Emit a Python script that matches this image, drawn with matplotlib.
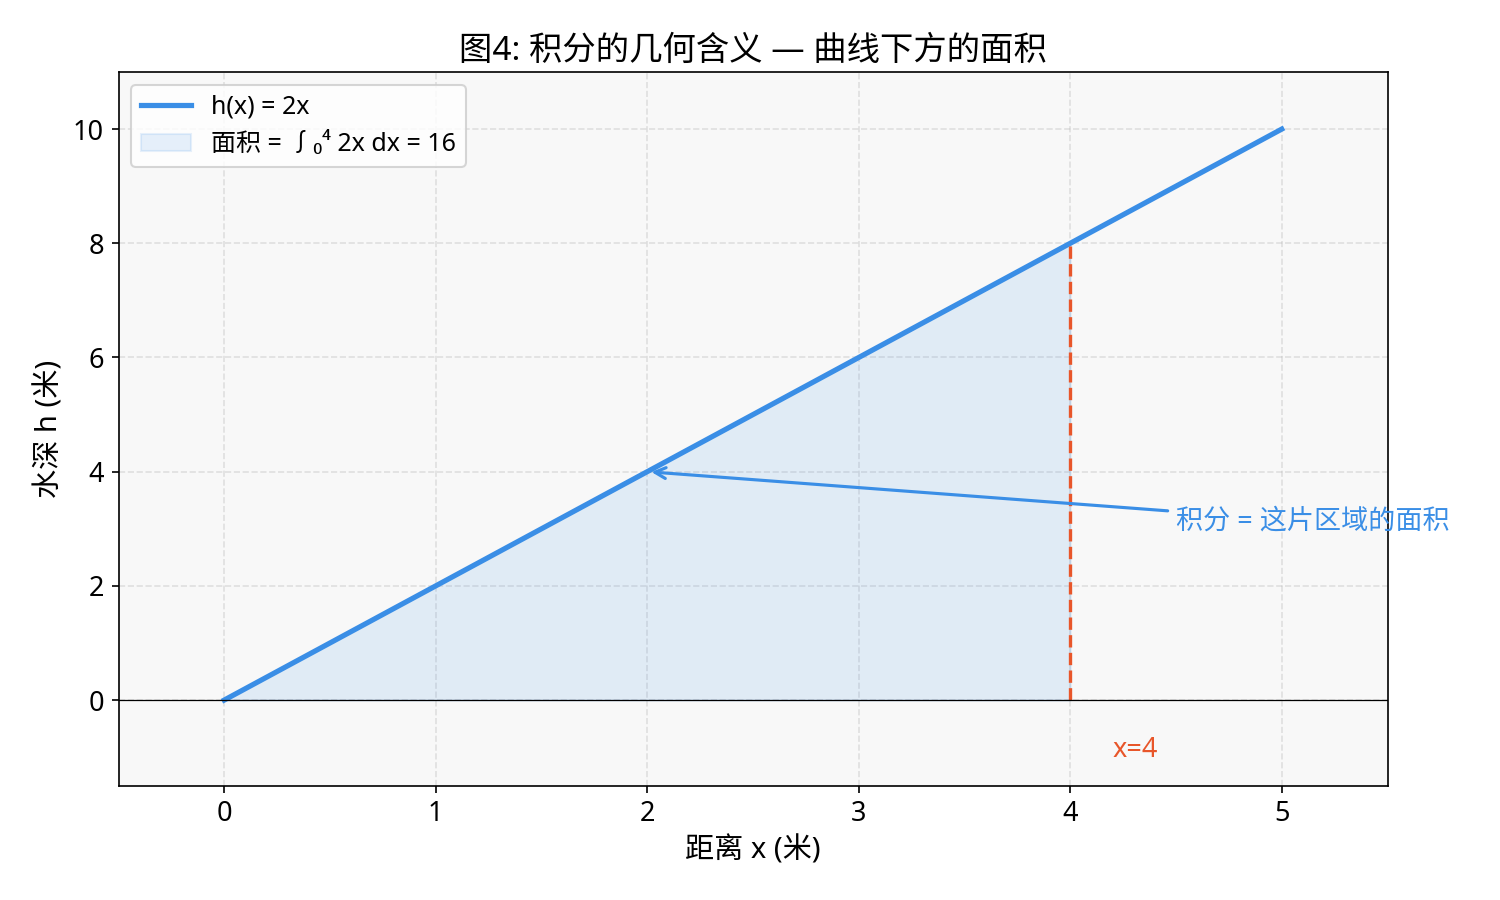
import numpy as np
import matplotlib
matplotlib.use("Agg")
import matplotlib.pyplot as plt

plt.rcParams['font.family'] = ['Noto Sans', 'Noto Sans CJK SC', 'DejaVu Sans']
plt.rcParams['axes.unicode_minus'] = False

x_line = [0, 1, 2, 3, 4, 5]
h_line = [0, 2, 4, 6, 8, 10]
x_fill = [0, 1, 2, 3, 4]
h_fill = [0, 2, 4, 6, 8]
x_mark = 4
h_mark = 8

blue = '#3A8EE6'
red = '#E8562A'

fig, ax = plt.subplots(figsize=(10, 6), dpi=150)
ax.set_facecolor('#F8F8F8')

ax.plot(x_line, h_line, color=blue, linewidth=2.5, label='h(x) = 2x')
ax.fill_between(x_fill, h_fill, 0, color=blue, alpha=0.12, label='面积 = ∫₀⁴ 2x dx = 16')
ax.plot([x_mark, x_mark], [0, h_mark], color=red, linestyle='--', linewidth=1.6)
ax.axhline(0, color='black', linewidth=0.6)

ax.annotate('积分 = 这片区域的面积', xy=(2, 4), xytext=(4.5, 3.0),
            fontsize=13, color=blue,
            arrowprops=dict(arrowstyle='->', color=blue, lw=1.5))
ax.text(4.2, -1.0, 'x=4', fontsize=13, color=red)

ax.set_xlim(-0.5, 5.5)
ax.set_ylim(-1.5, 11)
ax.set_xticks([0, 1, 2, 3, 4, 5])
ax.set_yticks([0, 2, 4, 6, 8, 10])
ax.tick_params(labelsize=13)
ax.grid(True, linestyle='--', alpha=0.35)
ax.set_axisbelow(True)

ax.set_xlabel('距离 x (米)', fontsize=14)
ax.set_ylabel('水深 h (米)', fontsize=14)
ax.set_title('图4: 积分的几何含义 — 曲线下方的面积', fontsize=16)
ax.legend(loc='upper left', fontsize=12)

fig.subplots_adjust(left=0.079, right=0.925, top=0.92, bottom=0.127)
fig.savefig('out.png', dpi=150)
